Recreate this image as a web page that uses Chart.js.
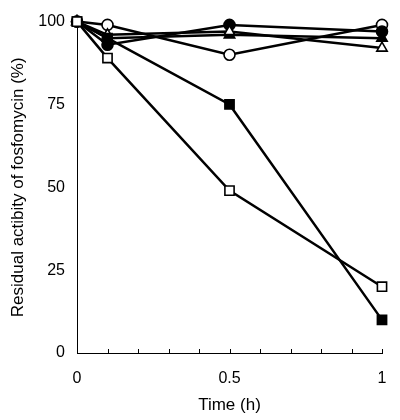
<!DOCTYPE html>
<html>
<head>
<meta charset="utf-8">
<script src="https://cdn.jsdelivr.net/npm/chart.js@4/dist/chart.umd.min.js"></script>
<style>
  html, body { margin: 0; padding: 0; background: #fff; }
  #wrap { width: 400px; height: 420px; }
</style>
</head>
<body>
<div id="wrap"><canvas id="c" width="400" height="420"></canvas></div>
<script>
const times = [0, 0.1, 0.5, 1];
const openCircle = [100, 99, 90, 99];
const filledCircle = [100, 93, 99, 97];
const openTriangle = [100, 96, 97, 92];
const filledTriangle = [100, 95, 96, 95];
const filledSquare = [100, 95, 75, 10];
const openSquare = [100, 89, 49, 20];
const xTickLabels = [0, 0.5, 1];
const yTicks = [0, 25, 50, 75, 100];

const pts = vals => vals.map((v, i) => ({ x: times[i], y: v }));

const series = (vals, style, filled) => ({
  data: pts(vals),
  borderColor: '#000',
  borderWidth: 2.5,
  pointStyle: style,
  pointRadius: style === 'rect' ? 6.5 : (style === 'triangle' ? 6 : 5.5),
  pointBackgroundColor: filled ? '#000' : '#fff',
  pointBorderColor: '#000',
  pointBorderWidth: 1.6,
  fill: false,
  tension: 0,
  clip: false
});

// minor ticks drawn inside the plot, like the original
const innerTicks = {
  id: 'innerTicks',
  afterDraw(chart) {
    const ctx = chart.ctx;
    const x = chart.scales.x, y = chart.scales.y;
    ctx.save();
    ctx.strokeStyle = '#000';
    ctx.lineWidth = 1;
    x.ticks.forEach(t => {
      const px = Math.round(x.getPixelForValue(t.value)) + 0.5;
      ctx.beginPath();
      ctx.moveTo(px, y.bottom);
      ctx.lineTo(px, y.bottom - 4);
      ctx.stroke();
    });
    ctx.restore();
  }
};

new Chart(document.getElementById('c').getContext('2d'), {
  type: 'line',
  data: {
    datasets: [
      series(openSquare, 'rect', false),
      series(filledSquare, 'rect', true),
      series(openTriangle, 'triangle', false),
      series(filledTriangle, 'triangle', true),
      series(filledCircle, 'circle', true),
      series(openCircle, 'circle', false)
    ]
  },
  options: {
    responsive: false,
    animation: false,
    layout: { padding: { left: 8, top: 16, right: 18, bottom: 0 } },
    plugins: { legend: { display: false }, tooltip: { enabled: false } },
    scales: {
      x: {
        type: 'linear',
        min: 0,
        max: 1,
        afterFit: s => { s.height = 67; s.paddingRight = 0; },
        afterBuildTicks: s => {
          s.ticks = [];
          for (let i = 0; i <= 10; i++) s.ticks.push({ value: i / 10 });
        },
        ticks: {
          color: '#000',
          font: { family: 'Liberation Sans, Arial', size: 16 },
          padding: 16,
          maxRotation: 0,
          autoSkip: false,
          callback: v => {
            const hit = xTickLabels.find(t => Math.abs(t - v) < 1e-9);
            return hit === undefined ? '' : String(hit);
          }
        },
        grid: { display: false, drawTicks: false },
        border: { display: true, color: '#000', width: 1 },
        title: {
          display: true,
          text: 'Time (h)',
          color: '#000',
          font: { family: 'Liberation Sans, Arial', size: 17 },
          padding: { top: 0 }
        }
      },
      y: {
        min: 0,
        max: 100,
        afterFit: s => { s.width = 69; },
        afterBuildTicks: s => { s.ticks = yTicks.map(v => ({ value: v })); },
        ticks: {
          color: '#000',
          font: { family: 'Liberation Sans, Arial', size: 16 },
          padding: 12
        },
        grid: { display: false, drawTicks: false },
        border: { display: true, color: '#000', width: 1 },
        title: {
          display: true,
          text: 'Residual actibity of fosfomycin (%)',
          color: '#000',
          font: { family: 'Liberation Sans, Arial', size: 17 },
          padding: { top: 0, bottom: 0 }
        }
      }
    }
  },
  plugins: [innerTicks]
});
</script>
</body>
</html>
